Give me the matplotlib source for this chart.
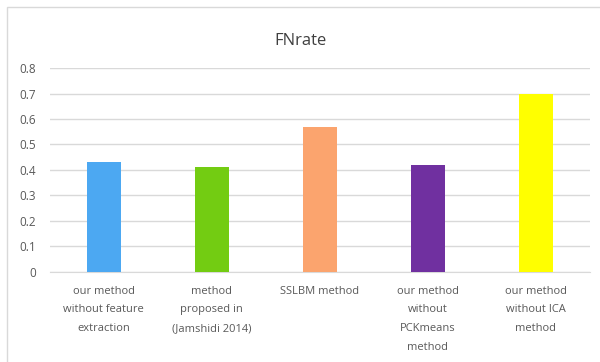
import matplotlib
matplotlib.use("Agg")
import matplotlib.pyplot as plt
from matplotlib.patches import Rectangle

# data
categories = [
    "our method\nwithout feature\nextraction",
    "method\nproposed in\n(Jamshidi 2014)",
    "SSLBM method",
    "our method\nwithout\nPCKmeans\nmethod",
    "our method\nwithout ICA\nmethod",
]
fn_rate = [0.43, 0.41, 0.57, 0.42, 0.70]
bar_colors = ["#4CA8F2", "#73CC12", "#FBA46E", "#7030A0", "#FFFF00"]
y_ticks = [0, 0.1, 0.2, 0.3, 0.4, 0.5, 0.6, 0.7, 0.8]

plt.rcParams["font.family"] = ["Open Sans", "DejaVu Sans"]

fig = plt.figure(figsize=(6, 3.62), dpi=100)
ax = fig.add_axes([0.083, 0.249, 0.9, 0.563])

# chart frame
fig.patches.append(Rectangle((7 / 600, -0.1), 1.0, 1 - 7 / 362 + 0.1,
                             transform=fig.transFigure, fill=False,
                             edgecolor="#d9d9d9", linewidth=1))

x = range(len(categories))
ax.bar(x, fn_rate, width=0.32, color=bar_colors, zorder=3)

ax.set_ylim(0, 0.8)
ax.set_xlim(-0.5, len(categories) - 0.5)
ax.set_yticks(y_ticks)
ax.set_yticklabels([f"{t:g}" for t in y_ticks])
ax.yaxis.grid(True, color="#d9d9d9", linewidth=1, zorder=0)
ax.set_xticks(list(x))
ax.set_xticklabels(categories, fontsize=8, color="#595959", linespacing=1.95)
ax.tick_params(axis="y", labelsize=8.5, labelcolor="#595959", length=0, pad=10)
ax.tick_params(axis="x", length=0, pad=10)
for s in ["top", "right", "left"]:
    ax.spines[s].set_visible(False)
ax.spines["bottom"].set_color("#d9d9d9")

fig.text(0.5, 1 - 41 / 362, "FNrate", ha="center", va="center",
         fontsize=12, color="#404040")

fig.savefig("out.png", dpi=100)
